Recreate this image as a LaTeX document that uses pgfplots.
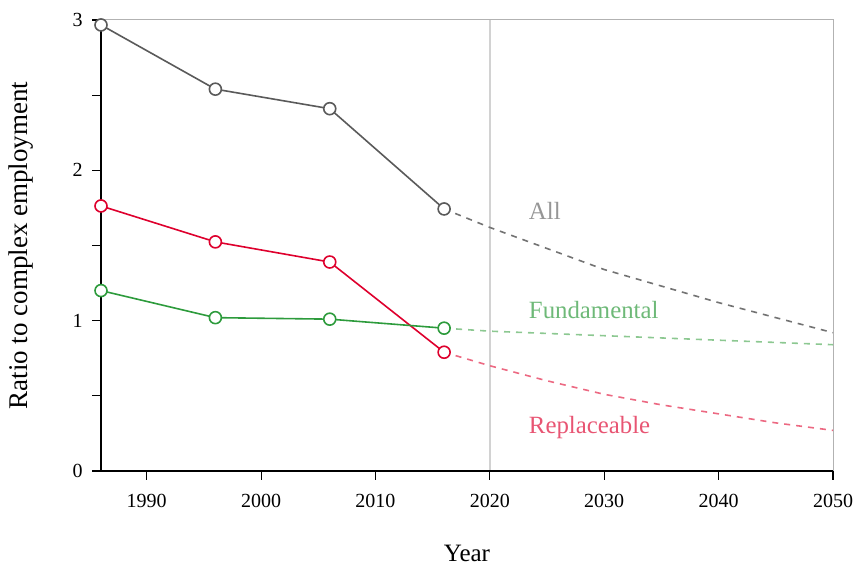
\documentclass[border=0pt]{standalone}
\usepackage{fontspec}
\setmainfont{Liberation Serif}
\usepackage{pgfplots}
\pgfplotsset{compat=1.18}

\definecolor{allc}{RGB}{90,90,90}
\definecolor{allf}{RGB}{115,115,115}
\definecolor{allt}{RGB}{150,150,150}
\definecolor{repc}{RGB}{222,0,45}
\definecolor{repf}{RGB}{236,105,130}
\definecolor{rept}{RGB}{232,85,115}
\definecolor{func}{RGB}{45,155,60}
\definecolor{funf}{RGB}{140,200,145}
\definecolor{funt}{RGB}{110,185,120}

\begin{document}
\begin{tikzpicture}
  \begin{axis}[
    scale only axis,
    width=366pt, height=225.5pt,
    xmin=1986, xmax=2050,
    ymin=0, ymax=3,
    xtick={1990,2000,...,2050},
    ytick={0,1,2,3},
    minor ytick={0.5,1.5,2.5},
    xtick pos=bottom, ytick pos=left,
    tick align=outside,
    major tick length=4.5pt, minor tick length=4.5pt,
    tick style={black, line width=0.6pt},
    axis line style={gray!60, line width=0.5pt},
    /pgf/number format/1000 sep={},
    /pgf/number format/assume math mode=true,
    tick label style={font=\fontsize{10}{12}\selectfont, inner sep=1pt},
    xticklabel style={yshift=-6pt},
    yticklabel style={xshift=-3.5pt},
    xlabel={Year},
    ylabel={Ratio to complex employment},
    xlabel style={font=\fontsize{12.5}{15}\selectfont, inner sep=0pt, at={(rel axis cs:0.5,0)}, anchor=center, yshift=-41pt},
    ylabel style={font=\fontsize{13.5}{16}\selectfont, inner sep=0pt, at={(rel axis cs:0,0.5)}, anchor=center, rotate=0, yshift=40pt},
    clip=false,
  ]
    % 2020 divider
    \addplot[gray!35, line width=1.2pt] coordinates {(2020,0) (2020,3)};

    % projections
    \addplot[allf, dashed, line width=0.8pt] coordinates {
      (2016,1.743) (2020,1.62) (2025,1.48) (2030,1.34) (2035,1.23) (2040,1.12) (2045,1.02) (2050,0.92)};
    \addplot[funf, dashed, line width=0.8pt] coordinates {
      (2016,0.95) (2020,0.93) (2030,0.90) (2040,0.87) (2050,0.84)};
    \addplot[repf, dashed, line width=0.8pt] coordinates {
      (2016,0.79) (2020,0.70) (2025,0.60) (2030,0.51) (2035,0.44) (2040,0.38) (2045,0.32) (2050,0.27)};

    % observed
    \addplot[allc, line width=0.8pt, mark=*, mark size=3pt,
      mark options={solid, fill=white, draw=allc, line width=0.8pt}] coordinates {
      (1986,2.967) (1996,2.54) (2006,2.41) (2016,1.743)};
    \addplot[repc, line width=0.8pt, mark=*, mark size=3pt,
      mark options={solid, fill=white, draw=repc, line width=0.8pt}] coordinates {
      (1986,1.763) (1996,1.524) (2006,1.39) (2016,0.79)};
    \addplot[func, line width=0.8pt, mark=*, mark size=3pt,
      mark options={solid, fill=white, draw=func, line width=0.8pt}] coordinates {
      (1986,1.20) (1996,1.02) (2006,1.01) (2016,0.95)};

    \node[allt, anchor=west, font=\fontsize{12.4}{14}\selectfont] at (axis cs:2022.8,1.73) {All};
    \node[funt, anchor=west, font=\fontsize{12.4}{14}\selectfont] at (axis cs:2022.8,1.07) {Fundamental};
    \node[rept, anchor=west, font=\fontsize{12.4}{14}\selectfont] at (axis cs:2022.8,0.29) {Replaceable};

    \draw[black, line width=0.6pt] (rel axis cs:0,1) -- (rel axis cs:0,0) -- (rel axis cs:1,0);
    \coordinate (bl) at (rel axis cs:0,0);
    \coordinate (tr) at (rel axis cs:1,1);
  \end{axis}
  \path ([shift={(-50.5pt,-47.5pt)}]bl) rectangle ([shift={(12pt,10pt)}]tr);
\end{tikzpicture}
\end{document}
